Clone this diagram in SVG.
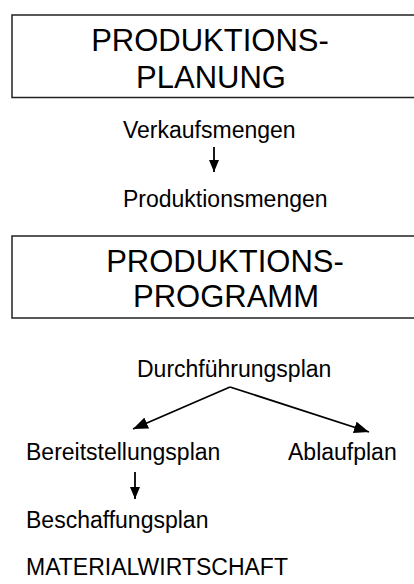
<svg xmlns="http://www.w3.org/2000/svg" width="414" height="584" viewBox="0 0 414 584">
  <style>
    .box { fill: #ffffff; stroke: #222222; stroke-width: 1.5; }
    .big { font-family: "Liberation Sans", Arial, sans-serif; font-size: 31px; fill: #000000; text-anchor: middle; }
    .lbl { font-family: "Liberation Sans", Arial, sans-serif; font-size: 23px; fill: #000000; }
    .edge { stroke: #000000; stroke-width: 1.8; fill: none; }
    .down { marker-end: url(#headSmall); }
    .fork { marker-end: url(#headLarge); }
  </style>
  <defs>
    <marker id="headSmall" viewBox="0 0 12 10" refX="12" refY="5" markerWidth="12" markerHeight="10" markerUnits="userSpaceOnUse" orient="auto">
      <path d="M0,0 L12,5 L0,10 Z" fill="#000000"/>
    </marker>
    <marker id="headLarge" viewBox="0 0 15 12" refX="15" refY="6" markerWidth="15" markerHeight="12" markerUnits="userSpaceOnUse" orient="auto">
      <path d="M0,0 L15,6 L0,12 Z" fill="#000000"/>
    </marker>
  </defs>
  <rect width="414" height="584" fill="#ffffff"/>

  <g id="produktionsplanung">
    <rect class="box" x="12" y="15" width="410" height="82.5"/>
    <text class="big" x="210" y="51">PRODUKTIONS-</text>
    <text class="big" x="211" y="88">PLANUNG</text>
  </g>

  <g id="verkaufsmengen">
    <text class="lbl" x="123" y="138">Verkaufsmengen</text>
  </g>

  <g id="produktionsmengen">
    <text class="lbl" x="123" y="207">Produktionsmengen</text>
  </g>

  <g id="produktionsprogramm">
    <rect class="box" x="12" y="236" width="410" height="82"/>
    <text class="big" x="225" y="272">PRODUKTIONS-</text>
    <text class="big" x="226" y="307">PROGRAMM</text>
  </g>

  <g id="durchfuehrungsplan">
    <text class="lbl" x="137" y="377">Durchführungsplan</text>
  </g>

  <g id="bereitstellungsplan">
    <text class="lbl" x="26" y="460">Bereitstellungsplan</text>
  </g>

  <g id="ablaufplan">
    <text class="lbl" x="288" y="460">Ablaufplan</text>
  </g>

  <g id="beschaffungsplan">
    <text class="lbl" x="26" y="528">Beschaffungsplan</text>
  </g>

  <g id="materialwirtschaft">
    <text class="lbl" x="26" y="575">MATERIALWIRTSCHAFT</text>
  </g>

  <g id="connectors">
    <line class="edge down" x1="214" y1="147" x2="214" y2="172"/>
    <line class="edge fork" x1="230" y1="387" x2="133" y2="429"/>
    <line class="edge fork" x1="230" y1="387" x2="369" y2="432"/>
    <line class="edge down" x1="135" y1="472" x2="135" y2="499"/>
  </g>
</svg>
